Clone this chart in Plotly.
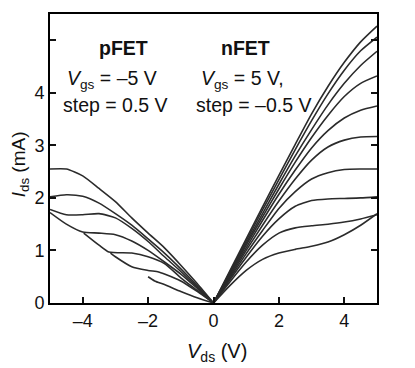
import plotly.graph_objects as go

# nFET 输出特性, Vgs = 5 V 到 0.5 V (步长 -0.5 V)
n_vds = [0, 0.5, 1, 1.5, 2, 2.5, 3, 3.5, 4, 4.5, 5]
n_ids = [
    [0, 0.61, 1.22, 1.83, 2.43, 3.02, 3.60, 4.12, 4.58, 4.97, 5.27],
    [0, 0.59, 1.18, 1.77, 2.35, 2.92, 3.47, 3.98, 4.43, 4.80, 5.06],
    [0, 0.57, 1.14, 1.70, 2.26, 2.80, 3.30, 3.77, 4.18, 4.52, 4.79],
    [0, 0.55, 1.10, 1.64, 2.17, 2.68, 3.15, 3.57, 3.93, 4.18, 4.32],
    [0, 0.53, 1.05, 1.57, 2.07, 2.53, 2.95, 3.28, 3.52, 3.67, 3.75],
    [0, 0.50, 1.00, 1.48, 1.94, 2.36, 2.72, 2.97, 3.10, 3.16, 3.17],
    [0, 0.47, 0.94, 1.38, 1.80, 2.12, 2.36, 2.48, 2.54, 2.55, 2.55],
    [0, 0.44, 0.87, 1.27, 1.60, 1.84, 1.95, 1.98, 1.99, 2.00, 2.02],
    [0, 0.40, 0.78, 1.10, 1.33, 1.43, 1.47, 1.50, 1.54, 1.60, 1.68],
    [0, 0.33, 0.62, 0.83, 0.95, 1.02, 1.08, 1.16, 1.30, 1.48, 1.70],
]

# pFET 输出特性 (每条曲线起点不同)
p_vds = [
    [-5, -4.5, -4, -3.5, -3, -2.5, -2, -1.5, -1, -0.5, 0],
    [-5, -4.5, -4, -3.5, -3, -2.5, -2, -1.5, -1, -0.5, 0],
    [-5, -4.5, -4, -3.5, -3, -2.5, -2, -1.5, -1, -0.5, 0],
    [-5, -4.5, -4, -3.5, -3, -2.5, -2, -1.5, -1, -0.5, 0],
    [-3.97, -3.5, -3.2, -2.5, -2, -1.5, -1, -0.5, 0],
    [-3.15, -3, -2.5, -2, -1.68, -1.5, -1, -0.5, 0],
    [-2, -1.8, -1.5, -1, -0.5, 0],
]
p_ids = [
    [2.55, 2.55, 2.42, 2.18, 1.93, 1.62, 1.33, 1.05, 0.72, 0.37, 0],
    [2.02, 2.06, 2.03, 1.90, 1.70, 1.48, 1.22, 0.95, 0.65, 0.33, 0],
    [1.78, 1.68, 1.68, 1.70, 1.62, 1.42, 1.17, 0.88, 0.60, 0.30, 0],
    [1.72, 1.50, 1.35, 1.33, 1.30, 1.18, 1.00, 0.78, 0.55, 0.28, 0],
    [1.33, 1.10, 0.97, 0.95, 0.88, 0.75, 0.48, 0.24, 0],
    [0.95, 0.88, 0.69, 0.62, 0.59, 0.55, 0.42, 0.22, 0],
    [0.50, 0.42, 0.35, 0.22, 0.10, 0],
]

x_ticks = [-4, -2, 0, 2, 4]
x_labels = ['\u20134', '\u20132', '0', '2', '4']
y_ticks = [0, 1, 2, 3, 4, 5]
y_labels = ['0', '1', '2', '3', '4', '']

line_style = dict(color='#2b2b2b', width=1.6, shape='spline', smoothing=0.6)

fig = go.Figure()
for ys in n_ids:
    fig.add_trace(go.Scatter(x=n_vds, y=ys, mode='lines', line=line_style,
                             showlegend=False, hoverinfo='skip'))
for xs, ys in zip(p_vds, p_ids):
    fig.add_trace(go.Scatter(x=xs, y=ys, mode='lines', line=line_style,
                             showlegend=False, hoverinfo='skip'))

font_name = 'Liberation Sans, Arial, sans-serif'

# 文字标注
notes = [
    (-2.75, 4.86, '<b>pFET</b>'),
    (-3.1, 4.25, '<i>V</i><sub>gs</sub> = \u20135 V'),
    (-3.0, 3.77, 'step = 0.5 V'),
    (0.98, 4.86, '<b>nFET</b>'),
    (0.9, 4.25, '<i>V</i><sub>gs</sub> = 5 V,'),
    (1.22, 3.77, 'step = \u20130.5 V'),
]
for x, y, t in notes:
    fig.add_annotation(x=x, y=y, text=t, showarrow=False,
                       font=dict(family=font_name, size=19.5, color='#111'),
                       xanchor='center', yanchor='middle')

# 坐标轴标题 (用注释固定位置)
fig.add_annotation(x=0.51, y=0, xref='paper', yref='paper', yshift=-49,
                   text='<i>V</i><sub>ds</sub> (V)', showarrow=False,
                   font=dict(family=font_name, size=20, color='#111'),
                   xanchor='center', yanchor='middle')
fig.add_annotation(x=0, y=0.48, xref='paper', yref='paper', xshift=-30,
                   text='<i>I</i><sub>ds</sub> (mA)', showarrow=False, textangle=-90,
                   font=dict(family=font_name, size=19, color='#111'),
                   xanchor='center', yanchor='middle')

# 页面 body 默认有 8px 边距, 这里把尺寸和边距相应缩小
fig.update_layout(
    width=407, height=360,
    margin=dict(l=42, r=38, t=6, b=65, autoexpand=False),
    paper_bgcolor='white', plot_bgcolor='white',
    font=dict(family=font_name, size=18, color='#111'),
    showlegend=False,
)
fig.update_xaxes(
    range=[-5, 5], tickvals=x_ticks, ticktext=x_labels, automargin=False,
    ticks='inside', ticklen=6, tickwidth=1.5, tickcolor='#111',
    showline=True, linewidth=2, linecolor='black', mirror=True,
    showgrid=False, zeroline=False,
)
fig.update_yaxes(
    range=[0, 5.5], tickvals=y_ticks, ticktext=y_labels, automargin=False,
    ticks='inside', ticklen=6, tickwidth=1.5, tickcolor='#111',
    showline=True, linewidth=2, linecolor='black', mirror='ticks',
    showgrid=False, zeroline=False,
)

fig.write_html("out.html")
